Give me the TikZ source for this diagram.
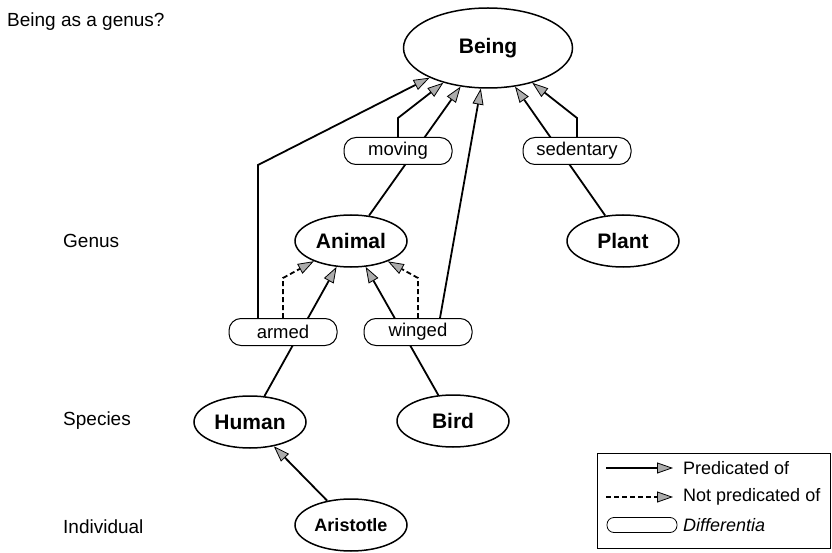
\documentclass[tikz,border=0pt]{standalone}
\usepackage{fontspec}
\setmainfont{Liberation Sans}
\usetikzlibrary{arrows.meta,shapes.geometric}
\pgfdeclarelayer{links}
\pgfsetlayers{links,main}
\tikzset{
  concept/.style={draw, shape=ellipse, line width=1.5pt, fill=white, inner sep=0pt,
    minimum width=112pt, minimum height=52pt, font=\fontsize{21}{24}\selectfont\bfseries},
  diff/.style={draw, rounded corners=12pt, line width=1pt, fill=white, inner sep=0pt,
    minimum width=108pt, minimum height=27pt, font=\fontsize{18.5}{22}\selectfont},
  level/.style={anchor=west, inner sep=0pt, font=\fontsize{19}{22}\selectfont},
  legtext/.style={anchor=west, inner sep=0pt, font=\fontsize{18}{22}\selectfont},
  pred/.style={line width=1.8pt, -{Triangle[length=16pt,width=11pt,fill=gray!65,line width=0.8pt]}},
  notpred/.style={pred, dash pattern=on 5pt off 3pt},
}

\begin{document}
\begin{tikzpicture}[x=1pt, y=-1pt]
    \useasboundingbox (0,0) rectangle (832,553);

    % levels
    \node[level] (lbeing) at (7,22) {Being as a genus?};
    \node[level] (lgenus) at (63,241) {Genus};
    \node[level] (lspecies) at (63,421) {Species};
    \node[level] (lindiv) at (63,527) {Individual};

    % concepts
    \node[concept, minimum width=169pt, minimum height=80pt] (Being) at (488,48) {Being};
    \node[concept] (Animal) at (351,241) {Animal};
    \node[concept] (Plant) at (623,241) {Plant};
    \node[concept] (Human) at (250,422) {Human};
    \node[concept] (Bird) at (453,421) {Bird};
    \node[concept, font=\fontsize{18}{22}\selectfont\bfseries] (Aristotle) at (351,525) {Aristotle};

    % differentiae
    \node[diff] (moving) at (398,151) {moving};
    \node[diff] (sedentary) at (577,151) {sedentary};
    \node[diff] (armed) at (283,332) {armed};
    \node[diff] (winged) at (418,332) {winged};

    \coordinate (armedbend) at (258,165);
    \coordinate (movingbend) at (398,118);
    \coordinate (sedentarybend) at (577,118);
    \coordinate (armeddash) at (283,278);
    \coordinate (wingeddash) at (418,278);

    \begin{pgfonlayer}{links}
    \draw[pred] (armed.north -| armedbend) -- (armedbend) -- (Being);
    \draw[pred] (moving) -- (movingbend) -- (Being);
    \draw[pred] (Animal) -- (Being);
    \draw[pred] ([xshift=22pt]winged.north) -- (Being);
    \draw[pred] (sedentary) -- (sedentarybend) -- (Being);
    \draw[pred] (Plant) -- (Being);
    \draw[pred] (Human) -- (Animal);
    \draw[pred] (Bird) -- (Animal);
    \draw[notpred] (armed) -- (armeddash) -- (Animal);
    \draw[notpred] (winged) -- (wingeddash) -- (Animal);
    \draw[pred] (Aristotle) -- (Human);
    \end{pgfonlayer}

    % legend
    \node[draw, line width=0.8pt, anchor=north west, minimum width=233pt, minimum height=95pt] (legend) at (597,453) {};
    \node[legtext] (lpred) at (683,468) {Predicated of};
    \node[legtext] (lnot) at (683,497) {Not predicated of};
    \node[legtext] (ldiff) at (683,525) {\itshape Differentia};
    \coordinate (lpredtail) at (606,468);
    \coordinate (lnottail) at (606,497);
    \draw[pred] (lpredtail) -- ([xshift=-10pt]lpred.west);
    \draw[notpred] (lnottail) -- ([xshift=-10pt]lnot.west);
    \node[diff, minimum width=70pt, minimum height=15pt, rounded corners=7pt, line width=0.8pt] (ldiffbox) at (642,525) {};
  \end{tikzpicture}
\end{document}
